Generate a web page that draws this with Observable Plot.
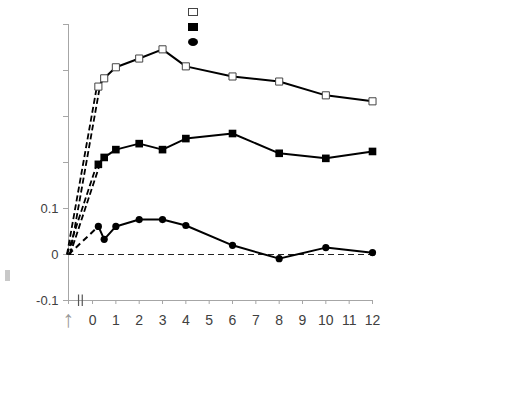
<!DOCTYPE html>
<html>
<head>
<meta charset="utf-8">
<script src="https://cdn.jsdelivr.net/npm/d3@7"></script>
<script src="https://cdn.jsdelivr.net/npm/@observablehq/plot@0.6"></script>
<style>
  body { margin: 0; background: #fff; font-family: "Liberation Sans", Arial, sans-serif; }
  #wrap { position: relative; width: 529px; height: 397px; overflow: hidden; }
  #chart { position: absolute; left: 0; top: 0; }
  #legend { position: absolute; left: 187px; top: 7px; }
  #ymark { position: absolute; left: 5px; top: 270px; width: 5px; height: 11px; background: #c8c8c8; }
</style>
</head>
<body>
<div id="wrap">
  <div id="chart"></div>
  <svg id="legend" width="14" height="42">
    <rect x="1.5" y="1.5" width="9" height="7" fill="#fff" stroke="#444" stroke-width="1"/>
    <rect x="1" y="16" width="10" height="8" fill="#000"/>
    <ellipse cx="6" cy="35" rx="5" ry="4" fill="#000"/>
  </svg>
  <div id="ymark"></div>
</div>
<script>
// Data
const months = [0.25, 0.5, 1, 2, 3, 4, 6, 8, 10, 12];
const seriesA = [0.365, 0.383, 0.407, 0.426, 0.446, 0.409, 0.387, 0.376, 0.346, 0.333]; // open squares
const seriesB = [0.196, 0.211, 0.228, 0.241, 0.228, 0.252, 0.263, 0.220, 0.209, 0.224]; // filled squares
const seriesC = [0.061, 0.033, 0.061, 0.076, 0.076, 0.063, 0.020, -0.009, 0.015, 0.004]; // filled circles
const originX = -1.03;   // baseline (arrow) position on x
const originY = 0;
const xTicks = [0, 1, 2, 3, 4, 5, 6, 7, 8, 9, 10, 11, 12];
const yTicks = [-0.1, 0, 0.1, 0.2, 0.3, 0.4, 0.5];
const yLabels = {"-0.1": "-0.1", "0": "0", "0.1": "0.1"};
const breakX = [-0.6, -0.44];

const toRows = (vals) => months.map((m, i) => ({x: m, y: vals[i]}));
const A = toRows(seriesA), B = toRows(seriesB), C = toRows(seriesC);
const links = [
  {x1: originX, y1: originY, x2: months[0], y2: seriesA[0]},
  {x1: originX, y1: originY, x2: months[0], y2: seriesB[0]}
];
const linkC = [{x1: originX, y1: originY, x2: months[0], y2: seriesC[0]}];

const plot = Plot.plot({
  width: 529,
  height: 397,
  marginLeft: 68,
  marginRight: 157,
  marginTop: 24,
  marginBottom: 97,
  style: {fontFamily: "Liberation Sans, Arial, sans-serif", fontSize: "13px", color: "#404040", background: "transparent"},
  x: {domain: [originX, 12]},
  y: {domain: [-0.1, 0.5]},
  marks: [
    // axes
    Plot.axisY({ticks: yTicks, tickSize: 5, tickFormat: d => yLabels[String(Math.round(d * 10) / 10)] ?? "", stroke: "#a6a6a6", tickPadding: 5, fontSize: 13}),
    Plot.axisX({ticks: xTicks, tickSize: 4, tickFormat: d => String(d), stroke: "#a6a6a6", tickPadding: 11, fontSize: 14}),
    Plot.axisX({ticks: [originX], tickSize: 4, tickFormat: () => "↑", stroke: "#a6a6a6", fill: "#999", tickPadding: 6, fontSize: 23}),
    Plot.ruleX([originX], {stroke: "#a6a6a6"}),
    Plot.ruleY([-0.1], {x1: originX, x2: 12, stroke: "#a6a6a6"}),
    Plot.ruleX(breakX, {y1: -0.113, y2: -0.088, stroke: "#555", strokeWidth: 1.2}),
    // zero dashed line
    Plot.ruleY([0], {x1: originX, x2: 12, stroke: "#222", strokeWidth: 1, strokeDasharray: "6,4"}),
    // dashed connectors from baseline (double dashed)
    Plot.link(links, {x1: "x1", y1: "y1", x2: "x2", y2: "y2", stroke: "#000", strokeWidth: 1.8, strokeDasharray: "6,3", dx: -1.5}),
    Plot.link(links, {x1: "x1", y1: "y1", x2: "x2", y2: "y2", stroke: "#000", strokeWidth: 1.8, strokeDasharray: "6,3", dx: 1.5}),
    Plot.link(linkC, {x1: "x1", y1: "y1", x2: "x2", y2: "y2", stroke: "#000", strokeWidth: 2, strokeDasharray: "6,4"}),
    // series lines
    Plot.line(A, {x: "x", y: "y", stroke: "#000", strokeWidth: 2}),
    Plot.line(B, {x: "x", y: "y", stroke: "#000", strokeWidth: 2}),
    Plot.line(C, {x: "x", y: "y", stroke: "#000", strokeWidth: 2}),
    // markers
    Plot.dot(A, {x: "x", y: "y", symbol: "square", r: 4, fill: "#fff", stroke: "#444", strokeWidth: 1}),
    Plot.dot(B, {x: "x", y: "y", symbol: "square", r: 4.3, fill: "#000", stroke: "none"}),
    Plot.dot(C, {x: "x", y: "y", symbol: "circle", r: 3.6, fill: "#000", stroke: "none"})
  ]
});
document.getElementById("chart").appendChild(plot);
</script>
</body>
</html>
